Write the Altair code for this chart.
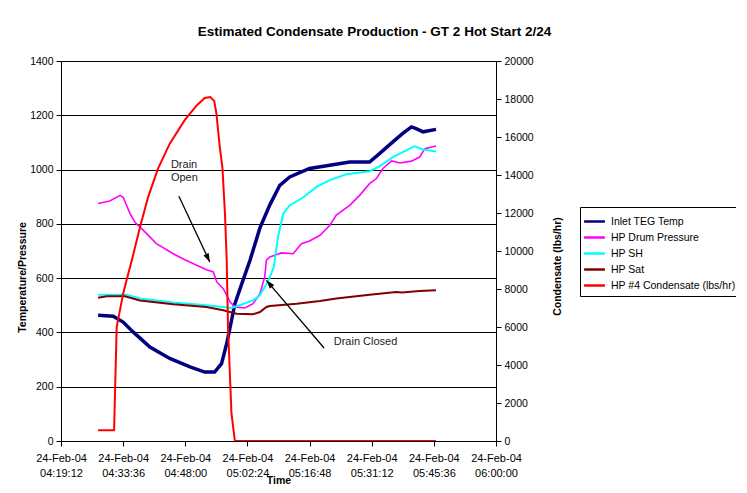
import altair as alt
import pandas as pd
from datetime import datetime, timedelta, timezone

# ---------------- data (minutes after 04:19:12 on 24-Feb-04) ----------------
series_names = ["Inlet TEG Temp", "HP Drum Pressure", "HP SH", "HP Sat",
                "HP #4 Condensate (lbs/hr)"]
series_colors = ["#000080", "#FF00FF", "#00FFFF", "#800000", "#FF0000"]
series_widths = [3.5, 1.6, 2.0, 2.0, 2.0]

teg_min = [8.6, 12.1, 14.4, 16.7, 20.6, 25.2, 29.9, 33.3, 35.6, 37.2, 38.4, 39.2,
           40.3, 41.9, 43.8, 46.1, 48.4, 50.7, 53.0, 57.6, 62.3, 66.9, 71.5, 73.8,
           76.9, 79.2, 81.2, 82.3, 83.9, 86.9]
teg_val = [463, 460, 438, 402, 346, 304, 273, 254, 254, 285, 359, 420, 506, 580,
           666, 785, 870, 942, 973, 1004, 1016, 1028, 1028, 1059, 1102, 1133, 1157,
           1151, 1139, 1148]

drum_min = [8.6, 11.3, 13.7, 14.4, 16.0, 17.1, 19.1, 22.1, 26.0, 28.7, 33.7, 35.3,
            36.1, 37.6, 39.2, 40.3, 42.6, 44.5, 46.1, 47.2, 47.6, 48.4, 51.1, 53.8,
            55.7, 57.6, 60.0, 62.3, 63.8, 66.9, 69.2, 71.5, 73.1, 74.6, 76.6, 78.5,
            81.2, 83.1, 84.3, 86.9]
drum_val = [875, 884, 905, 898, 838, 807, 776, 727, 690, 668, 631, 623, 586, 561,
            512, 494, 490, 506, 543, 604, 666, 678, 693, 690, 727, 737, 758, 795,
            832, 868, 905, 948, 967, 1004, 1032, 1024, 1031, 1046, 1077, 1087]

sh_min = [8.6, 15.2, 18.3, 26.0, 33.7, 37.6, 39.5, 41.4, 44.5, 46.1, 47.2, 48.4,
          49.3, 50.3, 51.5, 53.0, 56.1, 59.2, 62.3, 66.1, 71.5, 73.8, 76.9, 80.0,
          81.9, 83.9, 86.9]
sh_val = [539, 539, 525, 510, 500, 494, 490, 500, 518, 537, 567, 604, 640, 752,
          838, 868, 897, 936, 961, 983, 994, 1012, 1046, 1071, 1086, 1074, 1067]

sat_min = [8.6, 10.6, 14.8, 18.3, 26.0, 33.7, 37.6, 40.7, 44.5, 46.1, 47.6, 48.4,
           54.6, 60.0, 63.8, 71.5, 77.7, 79.0, 83.1, 86.9]
sat_val = [528, 533, 533, 518, 504, 494, 482, 469, 467, 475, 494, 497, 506, 516,
           525, 539, 549, 547, 553, 555]

cond_min = [8.6, 12.3, 12.9, 14.4, 15.4, 16.4, 18.3, 20.2, 22.5, 25.2, 28.7, 31.4,
            33.3, 34.6, 35.5, 36.0, 36.8, 37.4, 38.0, 38.4, 38.7, 39.5, 40.3, 86.9]
cond_val = [560, 560, 6000, 7750, 8650, 9500, 11250, 12850, 14350, 15650, 16900,
            17650, 18050, 18100, 17900, 17250, 15450, 14400, 11950, 9500, 6000,
            1450, 0, 0]

tick_times = ["04:19:12", "04:33:36", "04:48:00", "05:02:24", "05:16:48",
              "05:31:12", "05:45:36", "06:00:00"]
left_ticks = [0, 200, 400, 600, 800, 1000, 1200, 1400]
right_ticks = [0, 2000, 4000, 6000, 8000, 10000, 12000, 14000, 16000, 18000, 20000]

# annotations (minutes, left-axis value)
note_min = [25.46, 25.46, 63.2]
note_val = [1016, 968, 364]
note_txt = ["Drain", "Open", "Drain Closed"]
arrow_min0 = [27.31, 60.96]
arrow_val0 = [901.6, 342.7]
arrow_min1 = [34.49, 47.6]
arrow_val1 = [659.5, 592.0]
arrow_angle = [154.7, 319.6]

# ---------------- build tables ----------------
BASE = datetime(2004, 2, 24, 4, 19, 12, tzinfo=timezone.utc)


def iso(m):
    return (BASE + timedelta(seconds=round(m * 60))).strftime("%Y-%m-%dT%H:%M:%SZ")


def ms_of(hms):
    h, m, s = map(int, hms.split(":"))
    d = datetime(2004, 2, 24, h, m, s, tzinfo=timezone.utc)
    return int(d.timestamp() * 1000)


series_data = [(teg_min, teg_val), (drum_min, drum_val), (sh_min, sh_val),
               (sat_min, sat_val), (cond_min, cond_val)]
rows = []
for name, (mins, vals) in zip(series_names, series_data):
    for m, v in zip(mins, vals):
        rows.append({"series": name, "time": iso(m), "value": v})
df = pd.DataFrame(rows)

notes = pd.DataFrame({"time": [iso(m) for m in note_min], "value": note_val,
                      "label": note_txt})
arrows = pd.DataFrame({"time": [iso(m) for m in arrow_min0], "value": arrow_val0,
                       "time2": [iso(m) for m in arrow_min1], "value2": arrow_val1,
                       "angle": arrow_angle})

tick_ms = [ms_of(t) for t in tick_times]
x_domain = [tick_ms[0], tick_ms[-1]]

FONT = "Liberation Sans"

x_enc = alt.X(
    "time:T",
    scale=alt.Scale(type="utc", domain=x_domain),
    axis=alt.Axis(
        values=tick_ms,
        labelExpr="[utcFormat(datum.value, '%d-%b-%y'), utcFormat(datum.value, '%H:%M:%S')]",
        labelOverlap=False, labelBound=False, labelFlush=False, labelAlign="center",
        title="Time", grid=False, tickSize=5, labelFontSize=11, labelLineHeight=15,
        labelPadding=6, labelColor="#000", tickColor="#000", domainColor="#000",
        titleFontSize=10.5, titleFontWeight="bold", titleColor="#000",
        titleBaseline="bottom", titleY=44,
    ),
)

y_left_scale = alt.Scale(domain=[0, 1400], nice=False)
y_left = alt.Y(
    "value:Q", scale=y_left_scale,
    axis=alt.Axis(
        values=left_ticks, format="d", title="Temperature/Pressure", grid=True,
        gridColor="#000", gridWidth=1, tickSize=5, labelFontSize=10.5,
        labelPadding=3, labelColor="#000", tickColor="#000", domainColor="#000",
        labelOverlap=False, labelFlush=False,
        titleFontSize=10.5, titleFontWeight="bold", titleColor="#000",
        titleAngle=270, titleX=-39, titleY=216, titleBaseline="middle",
    ),
)
y_left_plain = alt.Y("value:Q", scale=y_left_scale, title="Temperature/Pressure")

y_right = alt.Y(
    "value:Q", scale=alt.Scale(domain=[0, 20000], nice=False),
    axis=alt.Axis(
        orient="right", values=right_ticks, format="d", title="Condensate (lbs/hr)",
        grid=False, labelOverlap=False, labelFlush=False,
        tickSize=5, labelFontSize=10.5, labelPadding=3, labelColor="#000",
        tickColor="#000", domainColor="#000", titleFontSize=10.5,
        titleFontWeight="bold", titleColor="#000", titleAngle=270, titleX=61,
        titleY=205, titleBaseline="middle",
    ),
)

color_enc = alt.Color(
    "series:N",
    scale=alt.Scale(domain=series_names, range=series_colors),
    legend=alt.Legend(
        orient="none", legendX=519, legendY=146, title=None,
        symbolType="M-1.3,0H1.3", symbolSize=256, symbolStrokeWidth=2.5,
        labelFontSize=10.5, labelColor="#000",
        strokeColor="#000", fillColor="white", padding=5, rowPadding=1,
        labelOffset=7, labelLimit=200,
    ),
)

left_layers = []
for i, name in enumerate(series_names[:4]):
    left_layers.append(
        alt.Chart(df).transform_filter(alt.datum.series == name)
        .mark_line(strokeWidth=series_widths[i], clip=True)
        .encode(x=x_enc, y=y_left if i == 0 else y_left_plain, color=color_enc,
                order="time:T")
    )

note_layer = alt.Chart(notes).mark_text(
    align="left", baseline="middle", fontSize=11, color="#222", font=FONT
).encode(x="time:T", y=y_left_plain, text="label:N")

arrow_lines = alt.Chart(arrows).mark_rule(color="#000", strokeWidth=1.3).encode(
    x="time:T", x2="time2:T", y=y_left_plain, y2="value2:Q"
)
arrow_heads = alt.Chart(arrows).mark_point(
    shape="M0,0L-0.33,1L0.33,1Z", filled=True, color="#000", size=300, opacity=1
).encode(x="time2:T", y=alt.Y("value2:Q", scale=y_left_scale,
                                title="Temperature/Pressure"),
         angle=alt.Angle("angle:Q", scale=None))

left_group = alt.layer(*left_layers, note_layer, arrow_lines, arrow_heads)

red_layer = (
    alt.Chart(df).transform_filter(alt.datum.series == series_names[4])
    .mark_line(strokeWidth=series_widths[4], clip=True)
    .encode(x=x_enc, y=y_right, color=color_enc, order="time:T")
)

chart = (
    alt.layer(left_group, red_layer)
    .resolve_scale(y="independent")
    .properties(
        width=435, height=380,
        autosize=alt.AutoSizeParams(type="none"),
        padding={"left": 53, "top": 53, "right": 240, "bottom": 44},
        title=alt.TitleParams(
            "Estimated Condensate Production - GT 2 Hot Start 2/24",
            fontSize=13.5, fontWeight="bold", font=FONT, color="#000",
            anchor="middle", dx=96, offset=18,
        ),
    )
    .configure(font=FONT)
    .configure_view(stroke=None)
)

chart.save("out.html", embed_options={"renderer": "svg", "actions": False})
